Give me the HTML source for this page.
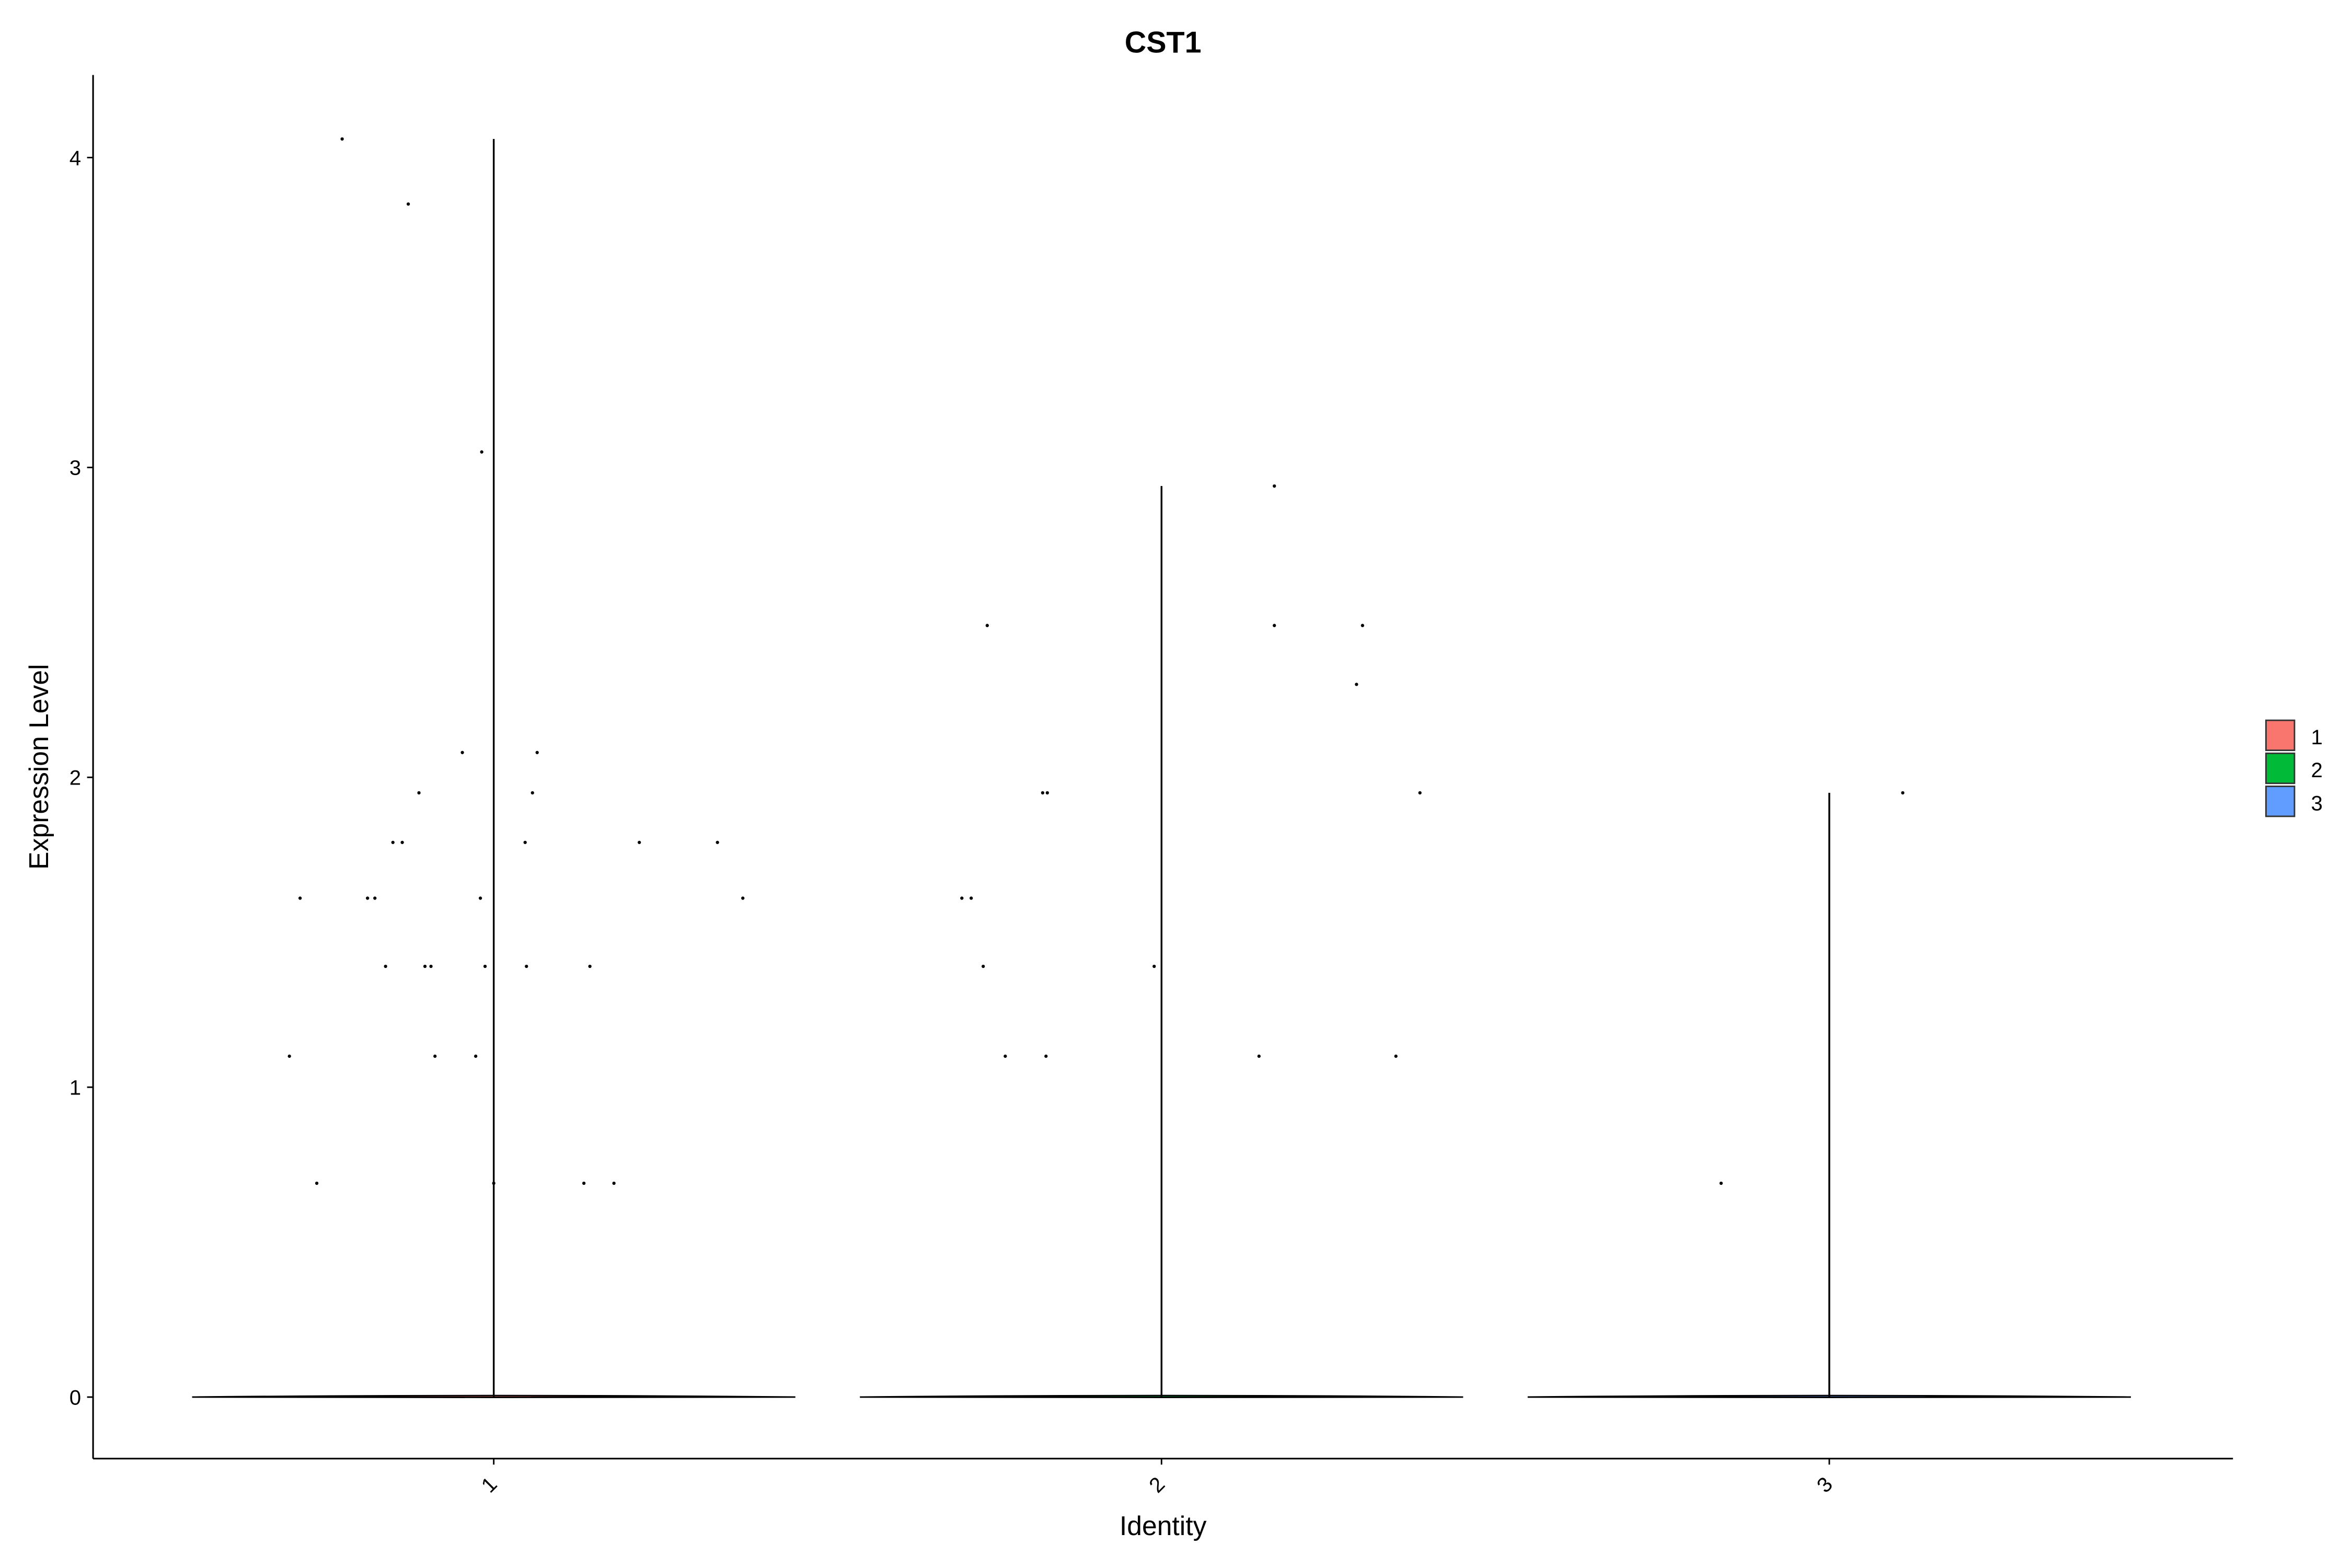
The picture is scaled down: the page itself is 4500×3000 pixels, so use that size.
<!DOCTYPE html>
<html><head><meta charset="utf-8">
<style>html,body{margin:0;padding:0;background:#fff}svg{display:block}text{font-family:"Liberation Sans",sans-serif;fill:#000}</style>
</head><body>
<svg id="chart" width="4500" height="3000" viewBox="0 0 1567.3 1044.9">
<text x="775" y="35" text-anchor="middle" font-size="20" font-weight="bold">CST1</text>
<g id="plot"></g>
<text x="775" y="1023" text-anchor="middle" font-size="18">Identity</text>
<text transform="translate(32,511) rotate(-90)" text-anchor="middle" font-size="18">Expression Level</text>
<g id="legend"></g>
</svg>
<script>
const categories = ["1","2","3"];
const colors = ["#F8766D","#00BA38","#619CFF"];
const maxValues = [4.06, 2.94, 1.95];
const yTicks = [0,1,2,3,4];
const ptGroup = [0,0,0,0,0,0,0,0,0,0,0,0,0,0,0,0,0,0,0,0,0,0,0,0,0,0,0,0,0,0,
 1,1,1,1,1,1,1,1,1,1,1,1,1,1,1,1, 2,2];
const ptJitter = [-0.227,-0.128,-0.018,-0.047,0.065,-0.112,0.058,-0.151,-0.137,0.047,0.218,0.335,-0.29,-0.189,-0.178,-0.02,0.373,-0.162,-0.103,-0.094,-0.013,0.049,0.144,-0.306,-0.088,-0.027,-0.265,0.135,0.18,0,
 0.169,-0.261,0.169,0.301,0.292,-0.178,-0.171,0.387,-0.299,-0.285,-0.267,-0.011,-0.234,-0.173,0.146,0.351, 0.11,-0.162];
const ptValue = [4.06,3.85,3.05,2.08,2.08,1.95,1.95,1.79,1.79,1.79,1.79,1.79,1.61,1.61,1.61,1.61,1.61,1.39,1.39,1.39,1.39,1.39,1.39,1.10,1.10,1.10,0.69,0.69,0.69,0.69,
 2.94,2.49,2.49,2.49,2.30,1.95,1.95,1.95,1.61,1.61,1.39,1.39,1.10,1.10,1.10,1.10, 1.95,0.69];

const NS="http://www.w3.org/2000/svg";
const L=62,R=1488,T=50,B=972;
const y=v=>931-v*206.5;
const x=i=>329+i*445;
const g=document.getElementById('plot');
function mk(t,a,p){const e=document.createElementNS(NS,t);for(const k in a)e.setAttribute(k,a[k]);(p||g).appendChild(e);return e;}
let e=mk('line',{x1:L,y1:T,x2:L,y2:B,stroke:'#000','stroke-width':1.1});


e=mk('line',{x1:L,y1:B,x2:R,y2:B,stroke:'#000','stroke-width':1.1});


yTicks.forEach(v=>{
 let t=mk('line',{x1:L-4,y1:y(v),x2:L,y2:y(v),stroke:'#000'});
 
 
 let tx=mk('text',{x:L-8,y:y(v)+5,'text-anchor':'end','font-size':14});
 tx.textContent=v;
 
 
});
categories.forEach((c,i)=>{
 const cx=x(i);
 let t=mk('line',{x1:cx,y1:B,x2:cx,y2:B+4,stroke:'#000'});
 
 
 let tx=mk('text',{transform:`translate(${cx+3},${B+18}) rotate(-45)`,'text-anchor':'end','font-size':14});
 tx.textContent=c;
 
 
 const y0=y(0),top=y(maxValues[i]);
 let v=mk('path',{d:`M${cx-201},${y0} Q${cx},${y0-2} ${cx+201},${y0} Q${cx},${y0+0.4} ${cx-201},${y0} Z`,fill:colors[i],stroke:'#000','stroke-width':1});
 
 
 let s=mk('line',{x1:cx,y1:top,x2:cx,y2:y0,stroke:'#000','stroke-width':1.2});
 
 
});
ptValue.forEach((v,k)=>{
 let p=mk('circle',{cx:x(ptGroup[k]+ptJitter[k]),cy:y(v),r:1.1,fill:'#000'});
 
 
});
const lg=document.getElementById('legend');
categories.forEach((c,i)=>{
 let r=mk('rect',{x:1510,y:480+i*22,width:19,height:20,fill:colors[i],stroke:'#333','stroke-width':1},lg);
 
 
 let t=mk('text',{x:1540,y:496+i*22,'font-size':14},lg);
 t.textContent=c;
 
 
});
</script>
</body></html>
